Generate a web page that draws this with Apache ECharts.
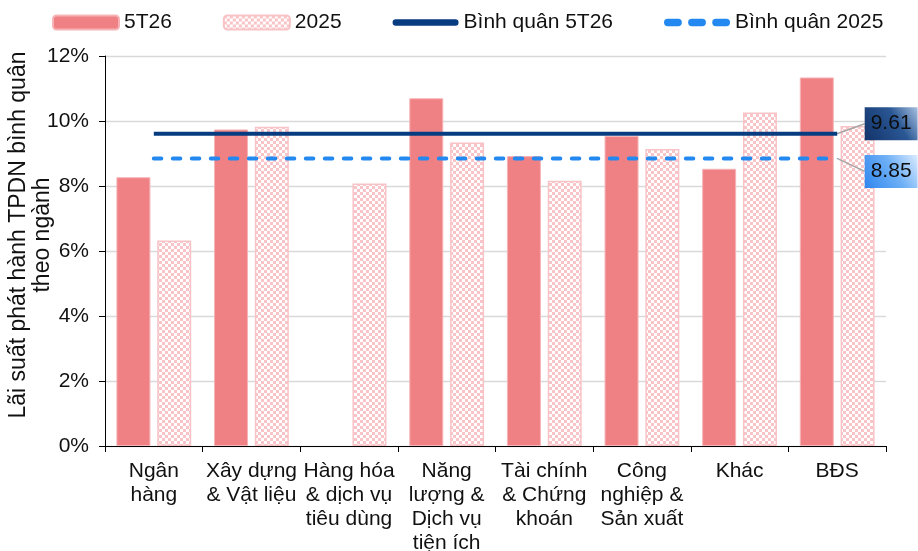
<!DOCTYPE html>
<html>
<head>
<meta charset="utf-8">
<script src="https://cdn.jsdelivr.net/npm/echarts@6/dist/echarts.min.js"></script>
<style>
  html, body { margin: 0; padding: 0; background: #fff; }
  #chart { width: 918px; height: 551px; }
</style>
</head>
<body>
<div id="chart"></div>
<script>
// Sector labels on the category axis
const categories = [
  'Ngân\nhàng',
  'Xây dựng\n& Vật liệu',
  'Hàng hóa\n& dịch vụ\ntiêu dùng',
  'Năng\nlượng &\nDịch vụ\ntiện ích',
  'Tài chính\n& Chứng\nkhoán',
  'Công\nnghiệp &\nSản xuất',
  'Khác',
  'BĐS'
];

// Average issuance rate by sector (%)
const rate5T26 = [8.27, 9.74, null, 10.70, 8.92, 9.54, 8.53, 11.34];
const rate2025 = [6.32, 9.82, 8.08, 9.34, 8.16, 9.14, 10.26, 9.85];

// Overall averages (%)
const avg5T26 = 9.61;
const avg2025 = 8.85;

// Value axis ticks (%)
const yMin = 0, yMax = 12, yStep = 2;

const FONT = "'Liberation Sans', Arial, sans-serif";

// Legend swatches for the two average lines: a rounded bar and three rounded dashes
const capsule = (x, w) =>
  `M${x + 3.5},0 L${x + w - 3.5},0 A3.5,3.5 0 0 1 ${x + w - 3.5},7 ` +
  `L${x + 3.5},7 A3.5,3.5 0 0 1 ${x + 3.5},0 Z`;
const solidSwatch = 'path://' + capsule(0, 70);
const dashedSwatch = 'path://' + capsule(0, 17) + ' ' + capsule(23, 17) + ' ' + capsule(46, 17);

// Small checker pattern used for the 2025 bars
function checkerPattern() {
  const c = document.createElement('canvas');
  c.width = 6; c.height = 6;
  const ctx = c.getContext('2d');
  ctx.fillStyle = '#ffffff';
  ctx.fillRect(0, 0, 6, 6);
  ctx.fillStyle = '#f9c4c7';
  ctx.fillRect(0, 0, 3, 3);
  ctx.fillRect(3, 3, 3, 3);
  return { image: c, repeat: 'repeat' };
}

// Constant line across all sectors, with a tagged value on the last point
function averageLine(value, tag) {
  return categories.map((_, i) => {
    if (i !== categories.length - 1) return value;
    return { value: value, symbol: 'circle', symbolSize: 1, label: tag };
  });
}

function valueTag(stops) {
  return {
    show: true,
    position: 'right',
    distance: 27,
    formatter: p => p.value.toFixed(2),
    fontFamily: FONT,
    fontSize: 21,
    color: '#0d0d0d',
    textBorderWidth: 0,
    textShadowBlur: 0,
    padding: [6, 6, 6, 6],
    backgroundColor: { type: 'linear', x: 0, y: 1, x2: 1, y2: 0, colorStops: stops }
  };
}

const navyTag = valueTag([
  { offset: 0, color: '#12336a' },
  { offset: 0.6, color: '#2a5794' },
  { offset: 1, color: '#a7c0e0' }
]);
const blueTag = valueTag([
  { offset: 0, color: '#2f86ee' },
  { offset: 0.55, color: '#6fb0f6' },
  { offset: 1, color: '#dcecff' }
]);

const chart = echarts.init(document.getElementById('chart'), null, { renderer: 'canvas' });

chart.setOption({
  backgroundColor: '#ffffff',
  animation: false,
  textStyle: { fontFamily: FONT },
  legend: {
    top: 7,
    left: 47,
    itemWidth: 66,
    itemHeight: 14,
    itemGap: 51,
    textStyle: { fontFamily: FONT, fontSize: 21, color: '#111' },
    data: [
      { name: '5T26' },
      { name: '2025' },
      { name: 'Bình quân 5T26', icon: solidSwatch, itemStyle: { color: '#083c80' } },
      { name: 'Bình quân 2025', icon: dashedSwatch, itemStyle: { color: '#2389f0' } }
    ]
  },
  grid: {
    left: 105, right: 32, top: 56, bottom: 105,
    containLabel: false,
    outerBoundsMode: 'none'
  },
  xAxis: {
    type: 'category',
    data: categories,
    axisLine: { lineStyle: { color: '#000', width: 1 } },
    axisTick: { show: true, length: 6, lineStyle: { color: '#000' } },
    axisLabel: {
      interval: 0,
      margin: 13,
      fontFamily: FONT,
      fontSize: 21,
      lineHeight: 24,
      color: '#111'
    }
  },
  yAxis: {
    type: 'value',
    min: yMin,
    max: yMax,
    interval: yStep,
    name: 'Lãi suất phát hành TPDN bình quân\ntheo ngành',
    nameLocation: 'middle',
    nameGap: 50,
    nameMoveOverlap: false,
    nameTextStyle: {
      fontFamily: FONT, fontSize: 23, lineHeight: 24, color: '#111',
      padding: [0, 0, 0, 32]
    },
    axisLine: { show: true, lineStyle: { color: '#000', width: 1 } },
    axisTick: { show: true, length: 6, lineStyle: { color: '#000' } },
    axisLabel: {
      formatter: '{value}%',
      margin: 16,
      fontFamily: FONT,
      fontSize: 21,
      color: '#111'
    },
    splitLine: { show: true, lineStyle: { color: '#d9d9d9', width: 1.3 } }
  },
  series: [
    {
      name: '5T26',
      type: 'bar',
      data: rate5T26,
      barWidth: 34,
      barGap: '20%',
      itemStyle: { color: '#ef8185', borderColor: '#f6b4b6', borderWidth: 1 },
      z: 2
    },
    {
      name: '2025',
      type: 'bar',
      data: rate2025,
      barWidth: 34,
      itemStyle: { color: checkerPattern(), borderColor: '#f8c3c6', borderWidth: 1.5 },
      z: 2
    },
    {
      name: 'Bình quân 5T26',
      type: 'line',
      data: averageLine(avg5T26, navyTag),
      symbol: 'none',
      lineStyle: { color: '#083c80', width: 4 },
      itemStyle: { color: '#083c80' },
      labelLayout: { dy: -10 },
      labelLine: { show: true, lineStyle: { color: '#a6a6a6', width: 1.5 } },
      z: 4
    },
    {
      name: 'Bình quân 2025',
      type: 'line',
      data: averageLine(avg2025, blueTag),
      symbol: 'none',
      lineStyle: { color: '#2389f0', width: 4, type: [7.5, 11.5], cap: 'round' },
      itemStyle: { color: '#2389f0' },
      labelLayout: { dy: 13 },
      labelLine: { show: true, lineStyle: { color: '#a6a6a6', width: 1.5 } },
      z: 3
    }
  ]
});
</script>
</body>
</html>
